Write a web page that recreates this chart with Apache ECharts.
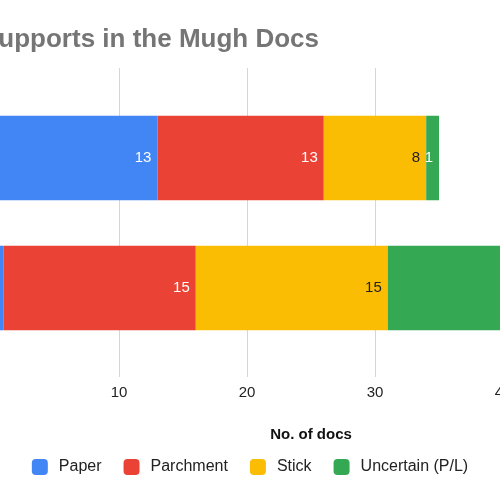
<!DOCTYPE html>
<html>
<head>
<meta charset="utf-8">
<script src="https://cdn.jsdelivr.net/npm/echarts@6/dist/echarts.min.js"></script>
<style>
  html, body { margin: 0; padding: 0; background: #fff; }
  #chart { width: 500px; height: 500px; }
</style>
</head>
<body>
<div id="chart"></div>
<script>
// 数据
const groups = ['Group 1', 'Group 2']
const paper = [13, 1]
const parchment = [13, 15]
const stick = [8, 15]
const uncertain = [1, 11]
const xTicks = [0, 10, 20, 30, 40, 50]

const font = '"Liberation Sans", Arial, sans-serif'
const colors = ['#4285f4', '#ea4335', '#fbbc04', '#34a853']

const myChart = echarts.init(document.getElementById('chart'))

function makeSeries(name, data, labelColor) {
  return {
    name: name,
    type: 'bar',
    stack: 'docs',
    xAxisIndex: 1,
    yAxisIndex: 1,
    barCategoryGap: '35%',
    data: data,
    label: {
      show: true,
      position: 'insideRight',
      distance: 6,
      color: labelColor,
      fontFamily: font,
      fontSize: 15
    }
  }
}

const option = {
  animation: false,
  color: colors,
  title: {
    text: 'Supports in the Mugh Docs',
    left: -24,
    top: 22,
    textStyle: { fontFamily: font, fontSize: 26, fontWeight: 'bold', color: '#757575' }
  },
  legend: {
    bottom: 20,
    left: 'center',
    icon: 'roundRect',
    itemWidth: 16,
    itemHeight: 16,
    itemGap: 22,
    textStyle: { fontFamily: font, fontSize: 16, color: '#222', padding: [0, 0, 0, 6] },
    data: ['Paper', 'Parchment', 'Stick', 'Uncertain (P/L)']
  },
  // grid 0 只画网格线和刻度，grid 1 画柱子
  grid: [
    { left: -9, right: -131, top: 68, bottom: 123, outerBoundsMode: 'none', containLabel: false },
    { left: -9, right: -131, top: 93, bottom: 147, outerBoundsMode: 'none', containLabel: false }
  ],
  xAxis: [
    {
      gridIndex: 0,
      type: 'value',
      min: xTicks[0],
      max: xTicks[xTicks.length - 1],
      interval: 10,
      axisLine: { show: false },
      axisTick: { show: false },
      axisLabel: { fontFamily: font, fontSize: 15, color: '#222', margin: 8 },
      splitLine: { lineStyle: { color: '#d6d6d6' } },
      name: 'No. of docs',
      nameLocation: 'middle',
      nameGap: 50,
      nameTextStyle: { fontFamily: font, fontSize: 15, fontWeight: 'bold', color: '#111' }
    },
    {
      gridIndex: 1,
      type: 'value',
      min: xTicks[0],
      max: xTicks[xTicks.length - 1],
      show: false
    }
  ],
  yAxis: [
    { gridIndex: 0, type: 'category', data: groups, show: false },
    { gridIndex: 1, type: 'category', data: groups, inverse: true, show: false }
  ],
  series: [
    makeSeries('Paper', paper, '#fff'),
    makeSeries('Parchment', parchment, '#fff'),
    makeSeries('Stick', stick, '#222'),
    makeSeries('Uncertain (P/L)', uncertain, '#fff')
  ]
}

myChart.setOption(option)
</script>
</body>
</html>
